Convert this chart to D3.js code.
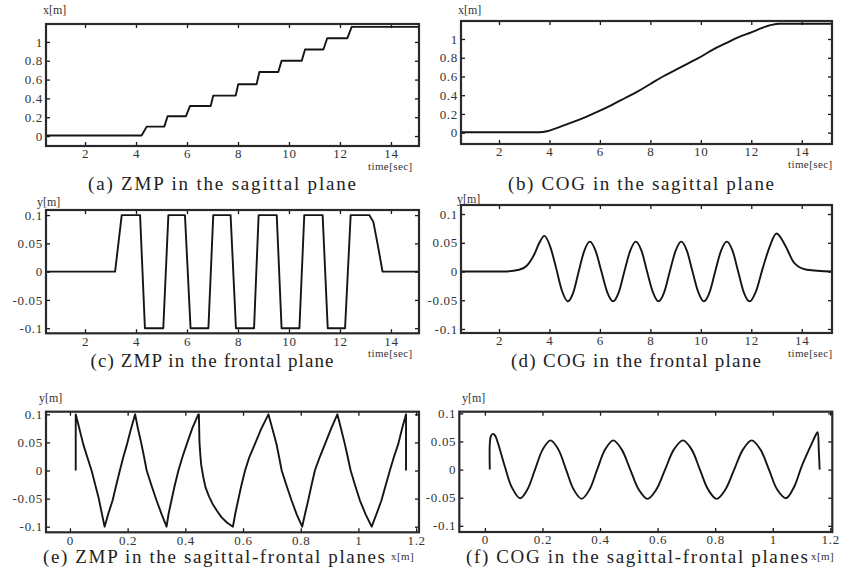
<!DOCTYPE html>
<html>
<head>
<meta charset="utf-8">
<script src="https://cdn.jsdelivr.net/npm/d3@7"></script>
<style>
  html, body { margin: 0; padding: 0; background: #fff; }
  svg { display: block; }
  text { font-family: "Liberation Serif", "Times New Roman", serif; }
</style>
</head>
<body>
<svg id="fig" width="851" height="580"></svg>
<script>
// ---- (a) ZMP x over time: footstep staircase ----
const zmpXTime  = [0.47, 4.22, 4.42, 5.11, 5.24, 5.96, 6.12, 6.93, 7.03, 7.91, 8.01, 8.73, 8.84, 9.58, 9.71, 10.50, 10.63, 11.35, 11.50, 12.29, 12.46, 15.1];
const zmpXValue = [0.005, 0.005, 0.10, 0.10, 0.21, 0.21, 0.32, 0.32, 0.43, 0.43, 0.55, 0.55, 0.68, 0.68, 0.80, 0.80, 0.92, 0.92, 1.04, 1.04, 1.16, 1.16];

// ---- (b) COG x over time ----
const cogXTime  = [0.49, 3.6, 3.9, 4.2, 4.6, 5.0, 5.5, 6.0, 6.5, 7.0, 7.5, 8.0, 8.5, 9.0, 9.5, 10.0, 10.5, 11.0, 11.5, 12.0, 12.4, 12.8, 13.1, 15.2];
const cogXValue = [0.005, 0.005, 0.015, 0.04, 0.08, 0.12, 0.175, 0.235, 0.30, 0.37, 0.44, 0.52, 0.60, 0.67, 0.74, 0.81, 0.89, 0.955, 1.02, 1.07, 1.115, 1.15, 1.163, 1.163];

// ---- (c) ZMP y over time ----
const zmpYTime  = [0.47, 3.18, 3.44, 4.16, 4.35, 5.07, 5.27, 5.92, 6.14, 6.84, 7.03, 7.71, 7.92, 8.63, 8.81, 9.52, 9.71, 10.41, 10.60, 11.32, 11.52, 12.20, 12.42, 13.15, 13.31, 13.50, 13.67, 15.1];
const zmpYValue = [0, 0, 0.1, 0.1, -0.1, -0.1, 0.1, 0.1, -0.1, -0.1, 0.1, 0.1, -0.1, -0.1, 0.1, 0.1, -0.1, -0.1, 0.1, 0.1, -0.1, -0.1, 0.1, 0.1, 0.088, 0.043, 0, 0];

// ---- (d) COG y over time ----
const cogYTime  = [0.49, 2.2, 2.8, 3.1, 3.4, 3.6, 3.8, 4.04, 4.27, 4.5, 4.73, 4.95, 5.16, 5.38, 5.6, 5.83, 6.06, 6.29, 6.52, 6.75, 6.97, 7.2, 7.42, 7.65, 7.87, 8.1, 8.32, 8.55, 8.77, 9.0, 9.22, 9.45, 9.67, 9.9, 10.12, 10.35, 10.57, 10.8, 11.03, 11.26, 11.48, 11.7, 11.93, 12.19, 12.45, 12.72, 13.0, 13.35, 13.7, 14.2, 15.2];
const cogYValue = [0, 0, 0.003, 0.01, 0.03, 0.05, 0.062, 0.042, 0.005, -0.034, -0.052, -0.036, 0, 0.036, 0.052, 0.036, 0, -0.036, -0.052, -0.036, 0, 0.036, 0.052, 0.036, 0, -0.036, -0.052, -0.036, 0, 0.036, 0.052, 0.036, 0, -0.036, -0.052, -0.036, 0, 0.036, 0.052, 0.036, 0, -0.036, -0.052, -0.034, 0.005, 0.042, 0.066, 0.045, 0.015, 0.003, 0];

// ---- (e) ZMP path in the x-y plane ----
const zmpPathX = [0.02, 0.02, 0.033, 0.046, 0.06, 0.075, 0.088, 0.10, 0.11, 0.12, 0.133, 0.148, 0.16, 0.173, 0.185, 0.198, 0.211, 0.226, 0.236, 0.248, 0.257, 0.266, 0.283, 0.30, 0.318, 0.335, 0.342, 0.352, 0.363, 0.376, 0.39, 0.405, 0.424, 0.445, 0.447, 0.449, 0.452, 0.455, 0.462, 0.47, 0.482, 0.495, 0.51, 0.525, 0.545, 0.565, 0.573, 0.583, 0.594, 0.607, 0.622, 0.641, 0.663, 0.688, 0.702, 0.716, 0.725, 0.734, 0.751, 0.768, 0.786, 0.805, 0.815, 0.826, 0.837, 0.849, 0.866, 0.884, 0.905, 0.927, 0.94, 0.953, 0.963, 0.973, 0.989, 1.005, 1.025, 1.046, 1.063, 1.08, 1.094, 1.109, 1.123, 1.138, 1.151, 1.165, 1.165];
const zmpPathY = [0, 0.1, 0.074, 0.047, 0.024, 0, -0.026, -0.05, -0.075, -0.1, -0.077, -0.053, -0.027, 0, 0.024, 0.047, 0.073, 0.1, 0.074, 0.047, 0.024, 0, -0.027, -0.053, -0.078, -0.1, -0.077, -0.053, -0.027, 0, 0.024, 0.047, 0.075, 0.1, 0.1, 0.05, 0.028, 0.01, -0.011, -0.03, -0.046, -0.06, -0.072, -0.083, -0.093, -0.1, -0.077, -0.053, -0.027, 0, 0.024, 0.047, 0.074, 0.1, 0.074, 0.047, 0.024, 0, -0.027, -0.053, -0.078, -0.1, -0.077, -0.053, -0.027, 0, 0.024, 0.047, 0.074, 0.1, 0.074, 0.047, 0.024, 0, -0.027, -0.053, -0.078, -0.1, -0.077, -0.053, -0.027, 0, 0.024, 0.047, 0.074, 0.1, 0];

// ---- (f) COG path in the x-y plane ----
const cogPathX = [0.017, 0.017, 0.021, 0.028, 0.036, 0.046, 0.0695, 0.093, 0.122, 0.147, 0.174, 0.201, 0.228, 0.255, 0.282, 0.309, 0.336, 0.363, 0.39, 0.418, 0.446, 0.475, 0.505, 0.535, 0.565, 0.595, 0.626, 0.657, 0.688, 0.718, 0.747, 0.776, 0.805, 0.835, 0.866, 0.897, 0.927, 0.957, 0.987, 1.016, 1.046, 1.075, 1.10, 1.13, 1.15, 1.156, 1.160, 1.163];
const cogPathY = [0, 0.046, 0.060, 0.0635, 0.060, 0.046, 0.005, -0.031, -0.051, -0.036, 0, 0.036, 0.052, 0.036, 0, -0.036, -0.052, -0.036, 0, 0.036, 0.052, 0.036, 0, -0.036, -0.052, -0.036, 0, 0.036, 0.052, 0.036, 0, -0.036, -0.052, -0.036, 0, 0.036, 0.052, 0.036, 0, -0.036, -0.051, -0.03, 0.005, 0.04, 0.062, 0.0666, 0.035, 0];

// ---- tick values ----
const timeTicks = [2, 4, 6, 8, 10, 12, 14];
const xPosTicks = [0, 0.2, 0.4, 0.6, 0.8, 1, 1.2];
const xLevelTicks = [0, 0.2, 0.4, 0.6, 0.8, 1];
const yLevelTicks = [-0.1, -0.05, 0, 0.05, 0.1];

// ---- captions and axis titles ----
const captions = [
  "(a) ZMP in the sagittal plane",
  "(b) COG in the sagittal plane",
  "(c) ZMP in the frontal plane",
  "(d) COG in the frontal plane",
  "(e) ZMP in the sagittal-frontal planes",
  "(f) COG in the sagittal-frontal planes"
];
const yTitles = ["x[m]", "x[m]", "y[m]", "y[m]", "y[m]", "y[m]"];
const xTitles = ["time[sec]", "time[sec]", "time[sec]", "time[sec]", "x[m]", "x[m]"];

const zip = (a, b) => a.map((v, i) => [v, b[i]]);

// Layout of each panel: frame box, axis domains, caption placement
const panels = [
  { frame: {l: 46,  r: 419,   t: 24,    b: 146},   xd: [0.47, 15.1],   yd: [-0.106, 1.191],
    xt: timeTicks, yt: xLevelTicks, data: zip(zmpXTime, zmpXValue), curve: d3.curveLinear,
    cap: {x: 222, y: 190, w: 268}, yTitle: {x: 43, y: 14}, xTitle: {x: 368, y: 170} },
  { frame: {l: 461, r: 832,   t: 21,    b: 144},   xd: [0.494, 15.2],  yd: [-0.121, 1.192],
    xt: timeTicks, yt: xLevelTicks, data: zip(cogXTime, cogXValue), curve: d3.curveMonotoneX,
    cap: {x: 641, y: 190, w: 266}, yTitle: {x: 458, y: 14}, xTitle: {x: 788, y: 168} },
  { frame: {l: 46,  r: 419,   t: 210,   b: 333.3}, xd: [0.47, 15.1],   yd: [-0.109, 0.109],
    xt: timeTicks, yt: yLevelTicks, data: zip(zmpYTime, zmpYValue), curve: d3.curveLinear,
    cap: {x: 212, y: 367, w: 243}, yTitle: {x: 37, y: 206}, xTitle: {x: 368, y: 357} },
  { frame: {l: 461, r: 832,   t: 205,   b: 333},   xd: [0.494, 15.2],  yd: [-0.107, 0.1157],
    xt: timeTicks, yt: yLevelTicks, data: zip(cogYTime, cogYValue), curve: d3.curveMonotoneX,
    cap: {x: 636, y: 367, w: 250}, yTitle: {x: 457, y: 203}, xTitle: {x: 788, y: 357} },
  { frame: {l: 46,  r: 419,   t: 411.7, b: 532.3}, xd: [-0.083, 1.210], yd: [-0.110, 0.1047],
    xt: xPosTicks, yt: yLevelTicks, data: zip(zmpPathX, zmpPathY), curve: d3.curveLinear,
    cap: {x: 214, y: 563, w: 342}, yTitle: {x: 39, y: 402}, xTitle: {x: 391, y: 560} },
  { frame: {l: 459.3, r: 832.3, t: 411.7, b: 532}, xd: [-0.089, 1.207], yd: [-0.111, 0.103],
    xt: xPosTicks, yt: yLevelTicks, data: zip(cogPathX, cogPathY), curve: d3.curveCatmullRom,
    cap: {x: 637, y: 563, w: 342}, yTitle: {x: 462, y: 402}, xTitle: {x: 811, y: 560} }
];

const fmt = v => String(+v.toFixed(3));
const svg = d3.select("#fig");
const INK = "#151515";
const LABEL = "#333";

panels.forEach((p, i) => {
  const f = p.frame;
  const x = d3.scaleLinear().domain(p.xd).range([f.l, f.r]);
  const y = d3.scaleLinear().domain(p.yd).range([f.b, f.t]);
  const g = svg.append("g");

  // inward ticks on all four sides
  const inside = v => v >= p.xd[0] && v <= p.xd[1];
  const xt = p.xt.filter(inside);
  g.append("g").attr("transform", `translate(0,${f.b})`)
    .call(d3.axisBottom(x).tickValues(xt).tickFormat(fmt).tickSizeInner(-4).tickSizeOuter(0).tickPadding(3));
  g.append("g").attr("transform", `translate(0,${f.t})`)
    .call(d3.axisTop(x).tickValues(xt).tickFormat("").tickSizeInner(-4).tickSizeOuter(0));
  g.append("g").attr("transform", `translate(${f.l},0)`)
    .call(d3.axisLeft(y).tickValues(p.yt).tickFormat(fmt).tickSizeInner(-4).tickSizeOuter(0).tickPadding(3));
  g.append("g").attr("transform", `translate(${f.r},0)`)
    .call(d3.axisRight(y).tickValues(p.yt).tickFormat("").tickSizeInner(-4).tickSizeOuter(0));
  g.selectAll(".domain").remove();
  g.selectAll(".tick line").attr("stroke", INK).attr("stroke-width", 1.3);
  g.selectAll(".tick text").attr("fill", LABEL)
    .style("font-family", '"Liberation Serif", serif').style("font-size", "13px")
    .style("letter-spacing", "0.7px");

  // data trace
  g.append("path")
    .datum(p.data)
    .attr("fill", "none")
    .attr("stroke", INK)
    .attr("stroke-width", 1.9)
    .attr("stroke-linejoin", "round")
    .attr("d", d3.line().x(d => x(d[0])).y(d => y(d[1])).curve(p.curve));

  // frame
  g.append("rect")
    .attr("x", f.l).attr("y", f.t)
    .attr("width", f.r - f.l).attr("height", f.b - f.t)
    .attr("fill", "none").attr("stroke", "#2a2a2a").attr("stroke-width", 2.2);

  // axis titles
  g.append("text").attr("x", p.yTitle.x).attr("y", p.yTitle.y)
    .attr("fill", LABEL).style("font-size", "12px").text(yTitles[i]);
  g.append("text").attr("x", p.xTitle.x).attr("y", p.xTitle.y)
    .attr("fill", LABEL).style("font-size", "11px").style("letter-spacing", "0.4px").text(xTitles[i]);

  // caption
  g.append("text").attr("x", p.cap.x).attr("y", p.cap.y)
    .attr("text-anchor", "middle").attr("fill", "#222")
    .attr("textLength", p.cap.w).attr("lengthAdjust", "spacing")
    .style("font-size", "19px").text(captions[i]);
});
</script>
</body>
</html>
